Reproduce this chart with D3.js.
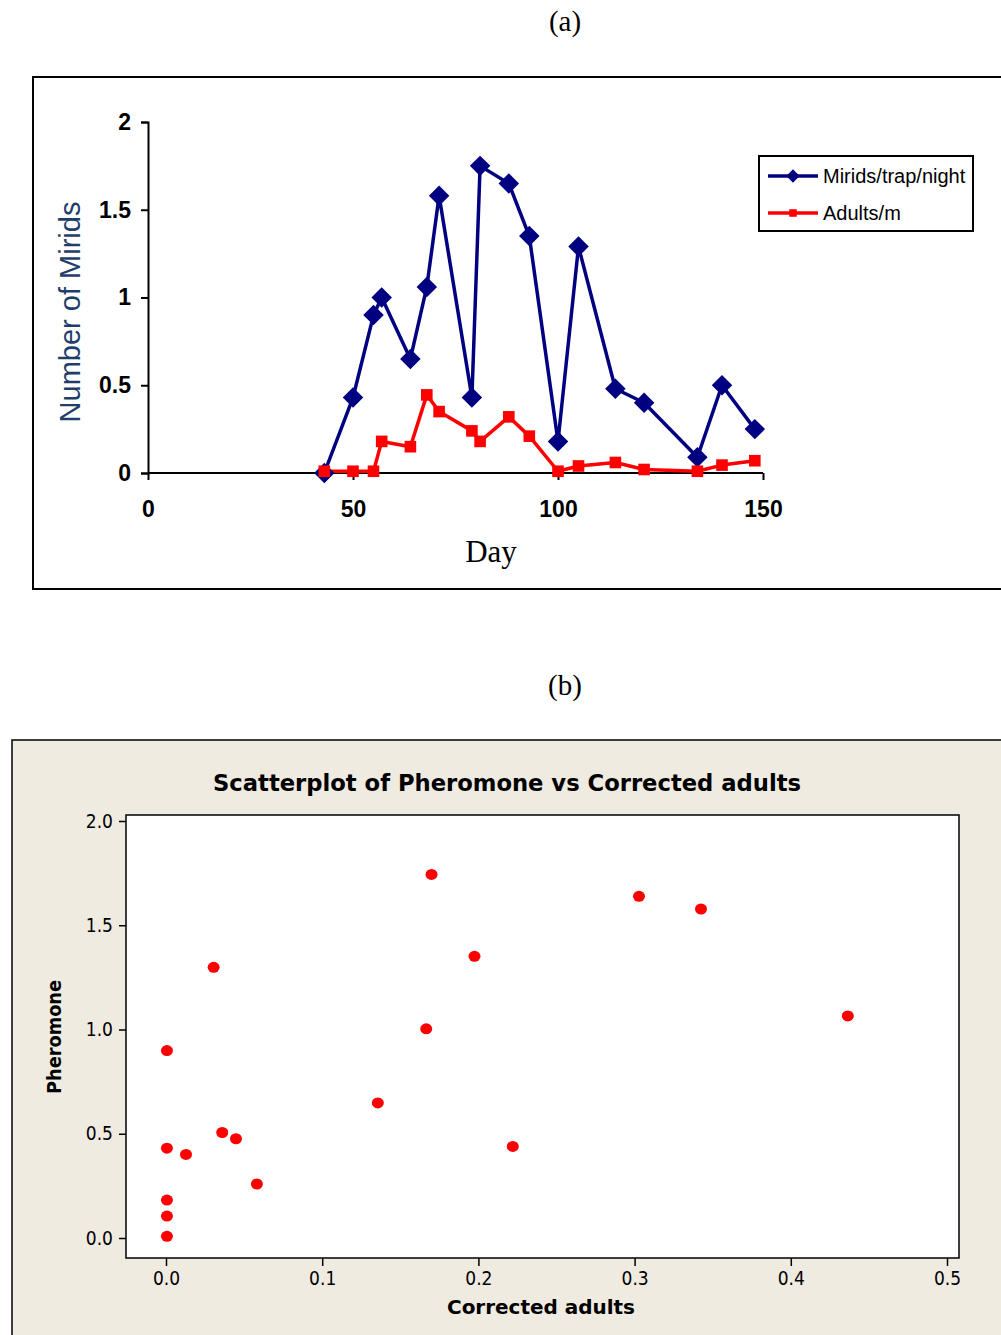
<!DOCTYPE html>
<html>
<head>
<meta charset="utf-8">
<script src="https://cdn.jsdelivr.net/npm/d3@7"></script>
<style>
  body { margin: 0; background: #fff; }
  svg { display: block; }
</style>
</head>
<body>
<div id="chart"></div>
<script>
// (a) time series
var days = [43, 50, 55, 57, 64, 68, 71, 79, 81, 88, 93, 100, 105, 114, 121, 134, 140, 148];
var mirids = [0, 0.43, 0.9, 1.0, 0.65, 1.06, 1.58, 0.43, 1.75, 1.65, 1.35, 0.18, 1.29, 0.48, 0.4, 0.09, 0.5, 0.25];
var adults = [0.01, 0.01, 0.01, 0.18, 0.15, 0.445, 0.35, 0.24, 0.18, 0.32, 0.21, 0.01, 0.04, 0.06, 0.02, 0.01, 0.045, 0.07];
var dayTicks = [0, 50, 100, 150];
var miridTicks = [0, 0.5, 1, 1.5, 2];
var seriesNames = ["Mirids/trap/night", "Adults/m"];

// (b) scatterplot
var correctedAdults = [0.170, 0.1975, 0.0305, 0.1666, 0.0006, 0.1356, 0.036, 0.0448, 0.222, 0.0006, 0.0128, 0.0582, 0.0006, 0.0006, 0.0006, 0.3028, 0.3425, 0.4365];
var pheromone = [1.744, 1.351, 1.298, 1.003, 0.899, 0.648, 0.506, 0.476, 0.439, 0.431, 0.401, 0.259, 0.182, 0.105, 0.008, 1.639, 1.578, 1.065];
var adultTicks = [0, 0.1, 0.2, 0.3, 0.4, 0.5];
var pherTicks = [0, 0.5, 1.0, 1.5, 2.0];

var svgWidth = 1001;
var svgHeight = 1335;

var svg = d3.select("#chart")
  .append("svg")
  .attr("width", svgWidth)
  .attr("height", svgHeight);

svg.append("rect").attr("width", svgWidth).attr("height", svgHeight).attr("fill", "#fff");

// ---------- panel (a) ----------
var serif = "'Liberation Serif', 'Times New Roman', serif";
var sans = "'Liberation Sans', Arial, sans-serif";

svg.append("text")
  .attr("x", 565).attr("y", 31)
  .attr("text-anchor", "middle")
  .style("font-family", serif).style("font-size", "29px")
  .text("(a)");

svg.append("rect")
  .attr("x", 33).attr("y", 77)
  .attr("width", 1000).attr("height", 512)
  .attr("fill", "none").attr("stroke", "#000").attr("stroke-width", 2);

var xA = d3.scaleLinear().domain([0, 150]).range([148, 763]);
var yA = d3.scaleLinear().domain([0, 2]).range([473, 122]);

var gA = svg.append("g");

var leftAxisA = d3.axisLeft(yA).tickValues(miridTicks).tickFormat(d3.format("")).tickSize(7).tickPadding(10);
var bottomAxisA = d3.axisBottom(xA).tickValues(dayTicks).tickSize(7).tickPadding(21);

gA.append("g")
  .attr("transform", "translate(148,0)")
  .call(leftAxisA)
  .call(function(g) {
    g.selectAll("path, line").attr("stroke", "#000").attr("stroke-width", 2);
    g.selectAll("text").style("font-family", sans).style("font-size", "23px").style("font-weight", "bold").attr("fill", "#000");
  });

gA.append("g")
  .attr("transform", "translate(0,473)")
  .call(bottomAxisA)
  .call(function(g) {
    g.select(".domain").attr("d", "M148,0H763");
    g.selectAll("path, line").attr("stroke", "#000").attr("stroke-width", 2);
    g.selectAll("text").style("font-family", sans).style("font-size", "23px").style("font-weight", "bold").attr("fill", "#000");
  });

gA.append("text")
  .attr("x", 491).attr("y", 562)
  .attr("text-anchor", "middle")
  .style("font-family", serif).style("font-size", "31px")
  .text("Day");

gA.append("text")
  .attr("transform", "translate(80,312) rotate(-90)")
  .attr("text-anchor", "middle")
  .style("font-family", sans).style("font-size", "29px")
  .attr("fill", "#1f3f6a")
  .text("Number of Mirids");

var lineA = d3.line().x(function(d) { return xA(d[0]); }).y(function(d) { return yA(d[1]); });
var miridPts = days.map(function(d, i) { return [d, mirids[i]]; });
var adultPts = days.map(function(d, i) { return [d, adults[i]]; });

var navy = "#000080";
var red = "#ff0000";
var diamond = d3.symbol().type(d3.symbolSquare).size(210);
var square = d3.symbol().type(d3.symbolSquare).size(135);

gA.append("path").datum(adultPts).attr("d", lineA)
  .attr("fill", "none").attr("stroke", red).attr("stroke-width", 3.5).attr("stroke-linejoin", "round");
gA.append("path").datum(miridPts).attr("d", lineA)
  .attr("fill", "none").attr("stroke", navy).attr("stroke-width", 3.5).attr("stroke-linejoin", "round");

gA.selectAll("path.mirid")
  .data(miridPts).enter().append("path")
  .attr("class", "mirid")
  .attr("d", diamond)
  .attr("transform", function(d) { return "translate(" + xA(d[0]) + "," + yA(d[1]) + ") rotate(45)"; })
  .attr("fill", navy);

gA.selectAll("path.adult")
  .data(adultPts).enter().append("path")
  .attr("class", "adult")
  .attr("d", square)
  .attr("transform", function(d) { return "translate(" + xA(d[0]) + "," + yA(d[1]) + ")"; })
  .attr("fill", red);

// legend
var legend = gA.append("g");
legend.append("rect")
  .attr("x", 759).attr("y", 156).attr("width", 214).attr("height", 75)
  .attr("fill", "#fff").attr("stroke", "#000").attr("stroke-width", 2);
[[navy, diamond, 45], [red, square, 0]].forEach(function(s, i) {
  var ly = 176 + i * 37;
  legend.append("line").attr("x1", 768).attr("x2", 818).attr("y1", ly).attr("y2", ly)
    .attr("stroke", s[0]).attr("stroke-width", 3.5);
  legend.append("path").attr("d", s[1])
    .attr("transform", "translate(793," + ly + ") rotate(" + s[2] + ") scale(0.65)").attr("fill", s[0]);
  legend.append("text").attr("x", 823).attr("y", ly + 7)
    .style("font-family", sans).style("font-size", "20px").attr("fill", "#000")
    .text(seriesNames[i]);
});

// ---------- panel (b) ----------
var tahoma = "'DejaVu Sans Condensed', 'DejaVu Sans', sans-serif";

svg.append("text")
  .attr("x", 565).attr("y", 695)
  .attr("text-anchor", "middle")
  .style("font-family", serif).style("font-size", "29px")
  .text("(b)");

svg.append("rect")
  .attr("x", 12).attr("y", 740)
  .attr("width", 1010).attr("height", 620)
  .attr("fill", "#efebe1").attr("stroke", "#000").attr("stroke-width", 1.5);

svg.append("rect")
  .attr("x", 126).attr("y", 815)
  .attr("width", 833).attr("height", 443)
  .attr("fill", "#fff").attr("stroke", "#000").attr("stroke-width", 1.5);

var xB = d3.scaleLinear().domain([0, 0.5]).range([166, 947]);
var yB = d3.scaleLinear().domain([0, 2]).range([1238, 821]);

var gB = svg.append("g");

gB.append("g")
  .attr("transform", "translate(126,0)")
  .call(d3.axisLeft(yB).tickValues(pherTicks).tickFormat(d3.format(".1f")).tickSize(7).tickPadding(6))
  .call(function(g) {
    g.select(".domain").remove();
    g.selectAll("line").attr("stroke", "#000").attr("stroke-width", 1.5);
    g.selectAll("text").style("font-family", tahoma).style("font-size", "19px").attr("fill", "#000");
  });

gB.append("g")
  .attr("transform", "translate(0,1258)")
  .call(d3.axisBottom(xB).tickValues(adultTicks).tickFormat(d3.format(".1f")).tickSize(8).tickPadding(6))
  .call(function(g) {
    g.select(".domain").remove();
    g.selectAll("line").attr("stroke", "#000").attr("stroke-width", 1.5);
    g.selectAll("text").style("font-family", tahoma).style("font-size", "19px").attr("fill", "#000");
  });

gB.append("text")
  .attr("x", 507).attr("y", 791)
  .attr("text-anchor", "middle")
  .attr("textLength", 588).attr("lengthAdjust", "spacingAndGlyphs")
  .style("font-family", tahoma).style("font-size", "23px").style("font-weight", "bold")
  .text("Scatterplot of Pheromone vs Corrected adults");

gB.append("text")
  .attr("x", 541).attr("y", 1314)
  .attr("text-anchor", "middle")
  .attr("textLength", 188).attr("lengthAdjust", "spacingAndGlyphs")
  .style("font-family", tahoma).style("font-size", "20px").style("font-weight", "bold")
  .text("Corrected adults");

gB.append("text")
  .attr("transform", "translate(61,1037) rotate(-90)")
  .attr("text-anchor", "middle")
  .attr("textLength", 114).attr("lengthAdjust", "spacingAndGlyphs")
  .style("font-family", tahoma).style("font-size", "20px").style("font-weight", "bold")
  .text("Pheromone");

gB.selectAll("ellipse.pt")
  .data(pheromone).enter().append("ellipse")
  .attr("class", "pt")
  .attr("cx", function(d, i) { return xB(correctedAdults[i]); })
  .attr("cy", function(d) { return yB(d); })
  .attr("rx", 6).attr("ry", 5.5)
  .attr("fill", "#ff0000");
</script>
</body>
</html>
